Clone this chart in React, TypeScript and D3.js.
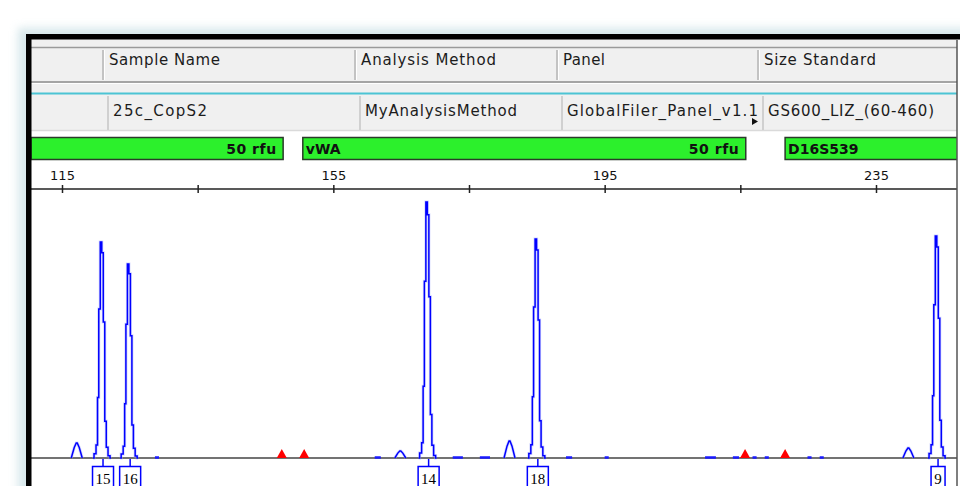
import React, { useEffect, useRef } from "react";
import * as d3 from "d3";

// size axis (bp)
const sizeTicks = [115, 135, 155, 175, 195, 215, 235];
const sizeLabels = [115, 155, 195, 235];

// table header / row
const headerTitles = ["Sample Name", "Analysis Method", "Panel", "Size Standard"];
const rowValues = ["25c_CopS2", "MyAnalysisMethod", "GlobalFiler_Panel_v1.1", "GS600_LIZ_(60-460)"];

// marker bins shown as green bars
const markerNames = ["", "vWA", "D16S539"];
const markerStarts = [110.4, 150.5, 221.6];
const markerEnds = [147.6, 215.8, 252];
const markerThreshold = ["50 rfu", "50 rfu", ""];

// peaks: size (bp), height (rfu), allele call
const peakSizes = [117.1, 120.9, 124.9, 164.8, 168.9, 180.9, 185.0, 239.7, 244.0];
const peakHeights = [137, 1971, 1770, 64, 2336, 155, 1998, 91, 2026];
const peakAlleles = ["", "15", "16", "", "14", "", "18", "", "9"];

// small baseline noise segments [from, to] bp
const noiseFrom = [128.7, 161.1, 172.6, 176.6, 189.3, 195.0, 209.8, 213.9, 216.8, 218.6, 224.9, 226.7];
const noiseTo = [129.3, 162.0, 174.1, 178.1, 190.2, 195.6, 211.4, 214.8, 217.4, 219.2, 225.5, 227.3];

// red triangle markers (bp)
const redMarks = [147.4, 150.7, 215.7, 221.6];

export default function App() {
  const ref = useRef<SVGSVGElement>(null);

  useEffect(() => {
    const svg = d3.select(ref.current);
    svg.selectAll("*").remove();

    const width = 960;
    const height = 486;
    const left = 31;
    const right = 957;
    const axisY = 189;
    const baseY = 458;

    const x = d3.scaleLinear().domain([115, 235]).range([62, 876]);
    const y = d3.scaleLinear().domain([0, 2400]).range([baseY, 195]);

    const defs = svg.append("defs");
    defs.append("filter").attr("id", "shadow").attr("x", "-10%").attr("y", "-10%").attr("width", "120%").attr("height", "120%")
      .append("feGaussianBlur").attr("stdDeviation", 4);
    defs.append("clipPath").attr("id", "win")
      .append("rect").attr("x", left).attr("y", 39).attr("width", right - left).attr("height", height - 39);

    svg.append("rect").attr("width", width).attr("height", height).attr("fill", "#ffffff");
    // soft window shadow
    svg.append("rect").attr("x", 18).attr("y", 28).attr("width", 960).attr("height", 480)
      .attr("fill", "#bcd8de").attr("opacity", 0.6).attr("filter", "url(#shadow)");

    // window body
    svg.append("rect").attr("x", left).attr("y", 39).attr("width", width - left).attr("height", height - 39).attr("fill", "#ffffff");

    // header strips
    const hdr = svg.append("g").attr("clip-path", "url(#win)");
    hdr.append("rect").attr("x", left).attr("y", 39).attr("width", right - left).attr("height", 92).attr("fill", "#f0f0f0");
    hdr.append("line").attr("x1", left).attr("x2", right).attr("y1", 47.5).attr("y2", 47.5).attr("stroke", "#9a9a9a").attr("stroke-width", 1.5);
    hdr.append("line").attr("x1", left).attr("x2", right).attr("y1", 82).attr("y2", 82).attr("stroke", "#8c8c8c").attr("stroke-width", 1.5);
    hdr.append("line").attr("x1", left).attr("x2", right).attr("y1", 83.5).attr("y2", 83.5).attr("stroke", "#ffffff").attr("stroke-width", 1);
    hdr.append("line").attr("x1", left).attr("x2", right).attr("y1", 93.5).attr("y2", 93.5).attr("stroke", "#4cc4d4").attr("stroke-width", 2);
    hdr.append("line").attr("x1", left).attr("x2", right).attr("y1", 130.5).attr("y2", 130.5).attr("stroke", "#dadada").attr("stroke-width", 1.5);

    const headerX = [103, 355, 557, 758];
    const rowX = [108, 360, 562, 763];
    const headerW = [111, 135, 42, 112];
    const rowW = [94, 152, 191, 166];

    headerX.forEach((hx) => {
      hdr.append("line").attr("x1", hx).attr("x2", hx).attr("y1", 50).attr("y2", 80).attr("stroke", "#b4b4b4").attr("stroke-width", 1.5);
      hdr.append("line").attr("x1", hx + 1.5).attr("x2", hx + 1.5).attr("y1", 50).attr("y2", 80).attr("stroke", "#ffffff").attr("stroke-width", 1);
    });
    rowX.forEach((rx) => {
      hdr.append("line").attr("x1", rx).attr("x2", rx).attr("y1", 96).attr("y2", 130).attr("stroke", "#d0d0d0").attr("stroke-width", 2);
    });

    hdr.selectAll(".htext").data(headerTitles).join("text").attr("class", "htext")
      .attr("x", (d, i) => headerX[i] + 6).attr("y", 65)
      .attr("textLength", (d, i) => headerW[i]).attr("lengthAdjust", "spacing")
      .style("font-family", "DejaVu Sans").style("font-size", "15px").attr("fill", "#1c1c1c")
      .text((d) => d);

    hdr.selectAll(".rtext").data(rowValues).join("text").attr("class", "rtext")
      .attr("x", (d, i) => rowX[i] + 5).attr("y", 116)
      .attr("textLength", (d, i) => rowW[i]).attr("lengthAdjust", "spacing")
      .style("font-family", "DejaVu Sans").style("font-size", "15px").attr("fill", "#1c1c1c")
      .text((d) => d);

    // tiny truncation arrow in panel cell
    hdr.append("path").attr("d", "M752,118 L758,121.5 L752,125 Z").attr("fill", "#111");

    // marker bins
    const bins = svg.append("g").attr("clip-path", "url(#win)");
    markerNames.forEach((name, i) => {
      const x0 = Math.max(left, x(markerStarts[i]));
      const x1 = Math.min(width, x(markerEnds[i]));
      bins.append("rect").attr("x", x0).attr("y", 137.5).attr("width", x1 - x0).attr("height", 22)
        .attr("fill", "#2cf02c").attr("stroke", "#2a3a2a").attr("stroke-width", 1.5);
      if (name) {
        bins.append("text").attr("x", x0 + 3).attr("y", 154)
          .style("font-family", "DejaVu Sans").style("font-weight", "bold").style("font-size", "14px")
          .attr("fill", "#111").text(name);
      }
      if (markerThreshold[i]) {
        bins.append("text").attr("x", x1 - 7).attr("y", 154).attr("text-anchor", "end")
          .attr("textLength", 50).attr("lengthAdjust", "spacing")
          .style("font-family", "DejaVu Sans").style("font-weight", "bold").style("font-size", "14px")
          .attr("fill", "#111").text(markerThreshold[i]);
      }
    });

    // size axis
    const axis = d3.axisTop(x).tickValues(sizeTicks).tickSize(4).tickPadding(5)
      .tickFormat((d) => (sizeLabels.includes(d as number) ? String(d) : ""));
    const ax = svg.append("g").attr("transform", `translate(0, ${axisY})`).call(axis);
    ax.select(".domain").remove();
    ax.selectAll(".tick line").attr("y1", -4).attr("y2", 4).attr("stroke", "#222").attr("stroke-width", 1.5);
    ax.selectAll(".tick text").style("font-family", "DejaVu Sans").style("font-size", "13px").attr("fill", "#111");
    svg.append("line").attr("x1", left).attr("x2", right).attr("y1", axisY).attr("y2", axisY).attr("stroke", "#222").attr("stroke-width", 1.5);

    // electropherogram
    const plot = svg.append("g").attr("clip-path", "url(#win)");
    plot.append("line").attr("x1", left).attr("x2", right).attr("y1", baseY).attr("y2", baseY).attr("stroke", "#444").attr("stroke-width", 1.5);

    noiseFrom.forEach((f, i) => {
      plot.append("line").attr("x1", x(f)).attr("x2", x(noiseTo[i])).attr("y1", baseY - 0.5).attr("y2", baseY - 0.5)
        .attr("stroke", "#1a1aff").attr("stroke-width", 2.5);
    });

    plot.selectAll(".mark").data(redMarks).join("path").attr("class", "mark")
      .attr("d", (d) => `M${x(d) - 5},${baseY} L${x(d)},${baseY - 9} L${x(d) + 5},${baseY} Z`)
      .attr("fill", "#ff0000");

    const bigProfile: [number, number][] = [[-9, 0], [-7, 0.02], [-5, 0.06], [-4, 0.28], [-2.5, 0.69], [-1, 1], [0.5, 0.95], [2, 0.63], [3.5, 0.17], [5, 0.05], [7, 0.01], [9, 0]];
    const smallProfile: [number, number][] = [[-5, 0], [-2, 0.7], [0, 1], [1, 1], [3, 0.7], [6, 0]];

    const stepLine = d3.line<[number, number]>().curve(d3.curveStep);
    const plainLine = d3.line<[number, number]>();

    peakSizes.forEach((s, i) => {
      const big = peakHeights[i] > 500;
      const prof = big ? bigProfile : smallProfile;
      const pts = prof.map(([dx, f]) => [x(s) + dx, y(peakHeights[i] * f)] as [number, number]);
      plot.append("path").attr("d", (big ? stepLine : plainLine)(pts))
        .attr("fill", "none").attr("stroke", "#aab0ff").attr("stroke-width", 3).attr("opacity", 0.5);
      plot.append("path").attr("d", (big ? stepLine : plainLine)(pts))
        .attr("fill", "none").attr("stroke", "#0000ff").attr("stroke-width", 1.5);
    });

    // allele call boxes
    peakSizes.forEach((s, i) => {
      const a = peakAlleles[i];
      if (!a) return;
      const cx = x(s) + 1;
      const w = a.length > 1 ? 21 : 14;
      plot.append("line").attr("x1", cx).attr("x2", cx).attr("y1", baseY + 1).attr("y2", 466).attr("stroke", "#0000ff").attr("stroke-width", 1.5);
      plot.append("rect").attr("x", cx - w / 2).attr("y", 466.5).attr("width", w).attr("height", 24)
        .attr("fill", "#ffffff").attr("stroke", "#0000ff").attr("stroke-width", 1.5);
      plot.append("text").attr("x", cx).attr("y", 483.5).attr("text-anchor", "middle")
        .style("font-family", "Liberation Serif").style("font-size", "15px").attr("fill", "#000").text(a);
    });

    // window frame
    svg.append("rect").attr("x", 26).attr("y", 34).attr("width", width - 26).attr("height", 5.5).attr("fill", "#000");
    svg.append("rect").attr("x", 26).attr("y", 34).attr("width", 5.5).attr("height", height - 34).attr("fill", "#000");
    svg.append("line").attr("x1", right).attr("x2", right).attr("y1", 40).attr("y2", height).attr("stroke", "#555").attr("stroke-width", 1.5);
  }, []);

  return (
    <svg ref={ref} width={960} height={486} style={{ position: "absolute", left: 0, top: 0, display: "block" }} />
  );
}
